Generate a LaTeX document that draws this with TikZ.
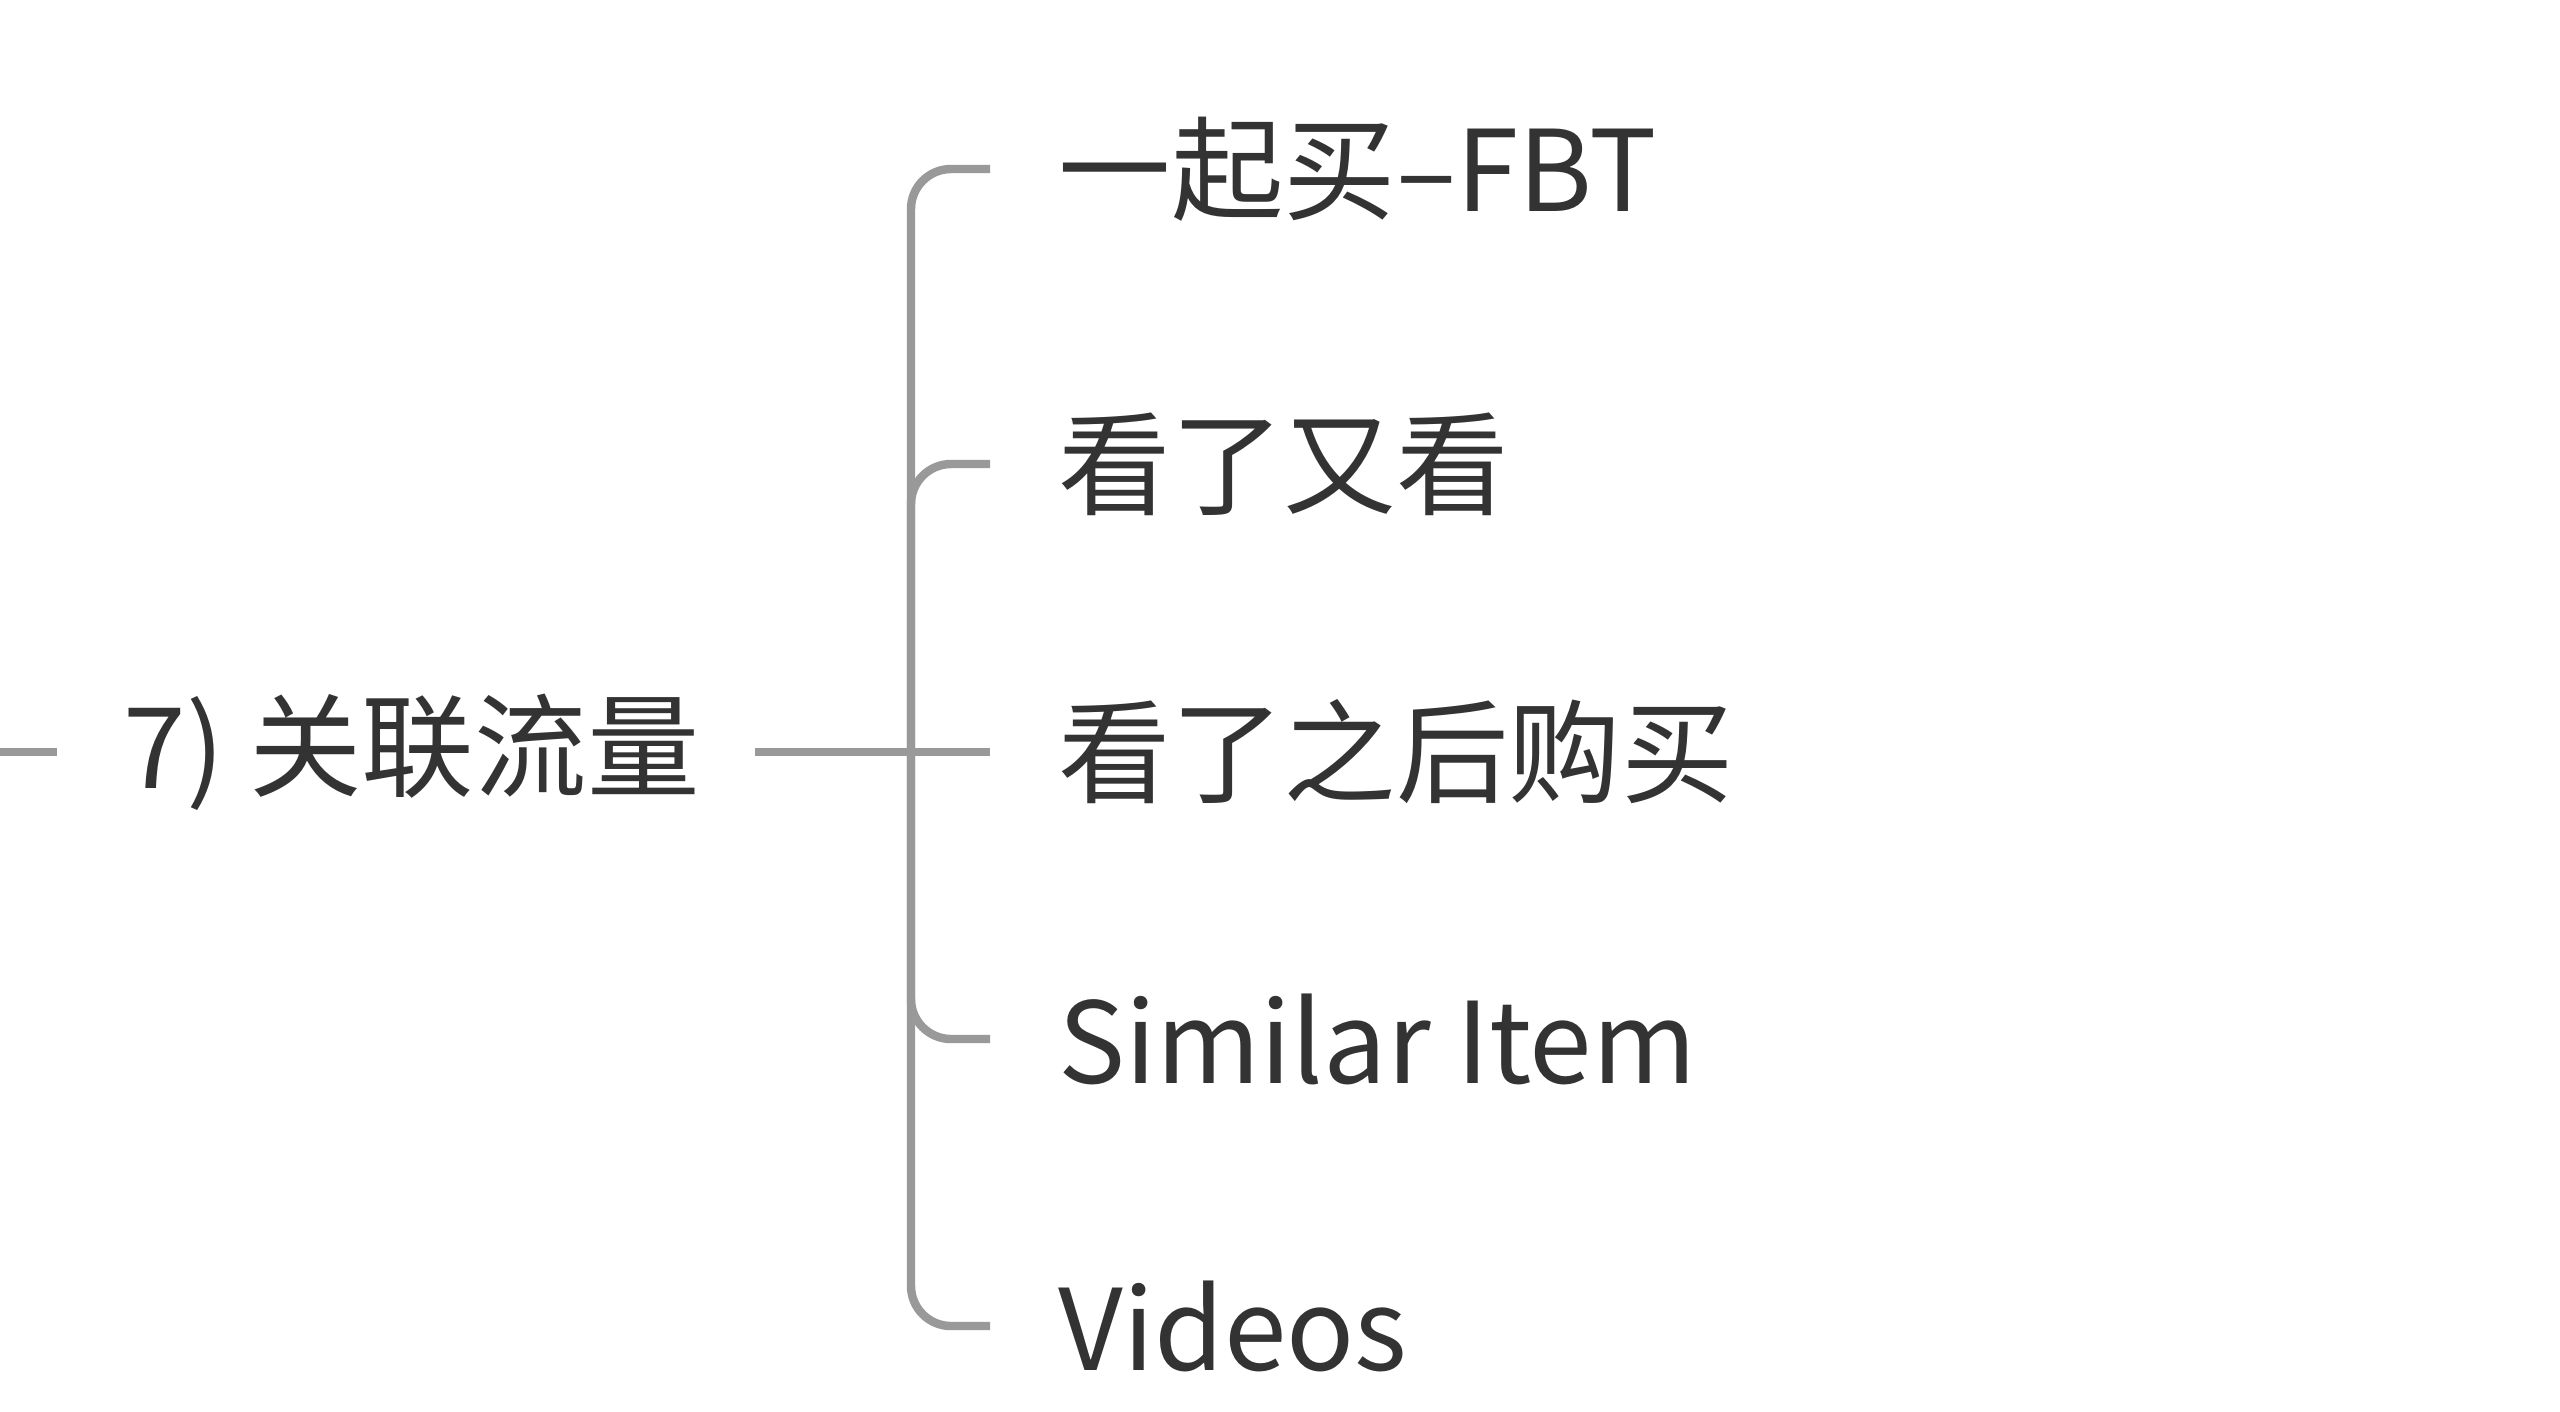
\documentclass[tikz,border=0pt]{standalone}
\usepackage{fontspec}
\setmainfont{Noto Sans CJK SC}
\definecolor{txt}{HTML}{333333}
\definecolor{ln}{HTML}{999999}
\begin{document}
\begin{tikzpicture}[x=0.01cm,y=-0.01cm,
  lbl/.style={anchor=west,inner sep=0pt,text=txt,font=\fontsize{32pt}{36pt}\selectfont},
  conn/.style={draw=ln,line width=2.4pt,rounded corners=0.4cm}]
\useasboundingbox (0,0) rectangle (2560,1411);
\coordinate (s) at (0,752);
\coordinate (se) at (57,752);
\node[lbl] (root) at (123,752) {7) 关联流量};
\coordinate (ro) at (755,752);
\coordinate (br) at (911,752);
\node[lbl] (c1) at (1058,169) {一起买--FBT};
\node[lbl] (c2) at (1058,464) {看了又看};
\node[lbl] (c3) at (1058,752) {看了之后购买};
\node[lbl] (c4) at (1058,1039) {Similar Item};
\node[lbl] (c5) at (1058,1326) {Videos};
\draw[conn] (s) -- (se);
\draw[conn] (ro) -- (990,752);
\foreach \c/\y in {c1/169,c2/464,c4/1039,c5/1326}{
  \draw[conn] (br) -- (911,\y) -- (990,\y);
}
\end{tikzpicture}
\end{document}
